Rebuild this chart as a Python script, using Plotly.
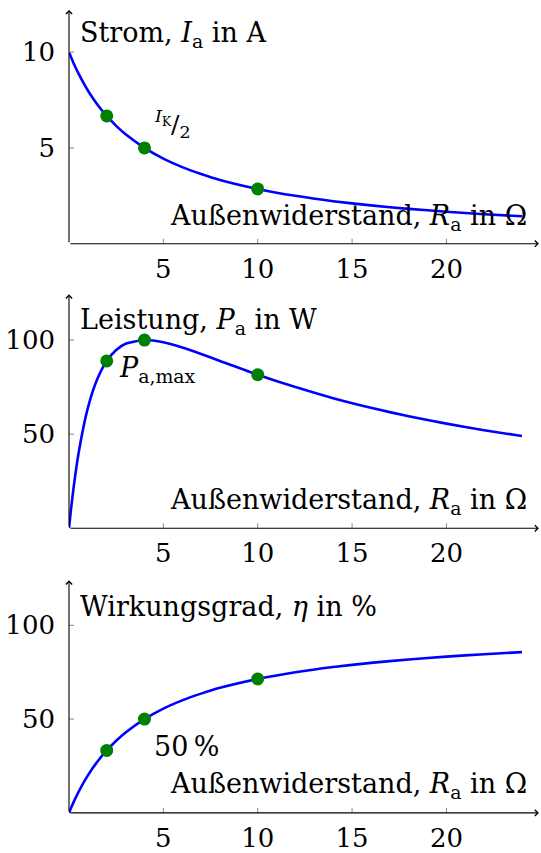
import plotly.graph_objects as go

# External resistance samples (Ohm)
R_a = [0, 0.1, 0.25, 0.5, 1, 1.5, 2, 2.5, 3, 4, 5, 6, 7, 8, 10, 12, 14, 16, 18, 20, 22, 24]
# Current I_a in A
I_a = [10, 9.76, 9.41, 8.89, 8.0, 7.27, 6.67, 6.15, 5.71, 5.0, 4.44, 4.0, 3.64, 3.33,
       2.86, 2.5, 2.22, 2.0, 1.82, 1.67, 1.54, 1.43]
# Power P_a in W
P_a = [0, 9.5, 22.1, 39.5, 64.0, 79.3, 88.9, 94.7, 98.0, 100.0, 98.8, 96.0, 92.6, 88.9,
       81.6, 75.0, 69.1, 64.0, 59.5, 55.6, 52.1, 49.0]
# Efficiency eta in %
eta = [0, 2.44, 5.88, 11.1, 20.0, 27.3, 33.3, 38.5, 42.9, 50.0, 55.6, 60.0, 63.6, 66.7,
       71.4, 75.0, 77.8, 80.0, 81.8, 83.3, 84.6, 85.7]

# Highlighted operating points
R_pts = [2, 4, 10]
I_pts = [6.67, 5.0, 2.86]
P_pts = [88.9, 100.0, 81.6]
eta_pts = [33.3, 50.0, 71.4]

x_ticks = [5, 10, 15, 20]
y_ticks = [[5, 10], [50, 100], [50, 100]]
y_max = [12.2, 124.3, 124.0]
x_max = 24.9

W, H = 541, 853
FONT = "'DejaVu Serif', serif"
FS = 27
FS_TICK = 26

def px_y(p):
    return (H - p) / H

x_dom = [69 / W, 538.9 / W]
y_doms = [[px_y(244.3), px_y(10)], [px_y(529.5), px_y(295)], [px_y(814.8), px_y(581.7)]]

fig = go.Figure()
series = [(I_a, I_pts), (P_a, P_pts), (eta, eta_pts)]
shapes, annotations = [], []

for i, (ys, pts) in enumerate(series):
    ax = "" if i == 0 else str(i + 1)
    xr, yr = "x" + ax, "y" + ax
    fig.add_trace(go.Scatter(x=R_a, y=ys, mode="lines", line=dict(color="#0000ff", width=2.6, shape="spline", smoothing=0.6),
                             xaxis=xr, yaxis=yr, hoverinfo="skip", cliponaxis=False))
    fig.add_trace(go.Scatter(x=R_pts, y=pts, mode="markers", marker=dict(color="#008000", size=13),
                             xaxis=xr, yaxis=yr, cliponaxis=False))
    axis_common = dict(showgrid=False, zeroline=False, showline=False, ticks="",
                       tickfont=dict(family=FONT, size=FS_TICK, color="black"))
    fig.update_layout(**{
        "xaxis" + ax: dict(domain=x_dom, range=[0, x_max], tickvals=x_ticks, anchor=yr,
                           ticklabelstandoff=7, **axis_common),
        "yaxis" + ax: dict(domain=y_doms[i], range=[0, y_max[i]], tickvals=y_ticks[i], anchor=xr,
                           ticklabelstandoff=13, **axis_common),
    })
    # axis arrows
    annotations.append(dict(x=x_max, y=0, ax=0, ay=0, xref=xr, yref=yr, axref=xr, ayref=yr,
                            showarrow=True, arrowhead=4, arrowsize=1.1, arrowwidth=1.1, arrowcolor="black", text=""))
    annotations.append(dict(x=0, y=y_max[i], ax=0, ay=0, xref=xr, yref=yr, axref=xr, ayref=yr,
                            showarrow=True, arrowhead=4, arrowsize=1.1, arrowwidth=1.1, arrowcolor="black", text=""))
    # tick marks crossing the axes
    for t in x_ticks:
        shapes.append(dict(type="line", xref=xr, yref=yr, ysizemode="pixel", yanchor=0, x0=t, x1=t, y0=-5, y1=5,
                           line=dict(color="#888888", width=1)))
    for t in y_ticks[i]:
        shapes.append(dict(type="line", xref=xr, yref=yr, xsizemode="pixel", xanchor=0, y0=t, y1=t, x0=-5, x1=5,
                           line=dict(color="#888888", width=1)))

def label(text, x, y, xanchor="left", size=FS):
    annotations.append(dict(text=text, x=x / W, y=px_y(y), xref="paper", yref="paper", xanchor=xanchor,
                            yanchor="middle", showarrow=False, font=dict(family=FONT, size=size, color="black")))

label("Strom, <i>I</i><sub>a</sub> in A", 78, 35)
label("Leistung, <i>P</i><sub>a</sub> in W", 78, 322)
label("Wirkungsgrad, <i>η</i> in %", 78, 608)
for yy in [218, 503, 787]:
    label("Außenwiderstand, <i>R</i><sub>a</sub> in Ω", 529, yy, xanchor="right")

label("<sup><i>I</i><sub>K</sub></sup>/<sub>2</sub>", 152, 124, size=25)
label("<i>P</i><sub>a,max</sub>", 117, 370)
label("50\u2009%", 152, 748)

fig.update_layout(width=W, height=H, margin=dict(l=0, r=0, t=0, b=0), showlegend=False,
                  paper_bgcolor="white", plot_bgcolor="white", shapes=shapes, annotations=annotations)

fig.write_html("out.html")
